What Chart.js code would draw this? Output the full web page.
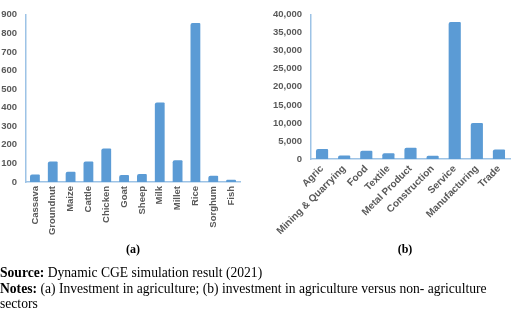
<!DOCTYPE html>
<html>
<head>
<meta charset="utf-8">
<script src="https://cdn.jsdelivr.net/npm/chart.js@4.4.1/dist/chart.umd.min.js"></script>
<style>
  html, body { margin: 0; padding: 0; background: #fff; width: 520px; height: 314px; overflow: hidden; }
  canvas { position: absolute; }
  #ca { left: 0; top: 0; }
  #cb { left: 260px; top: 0; }
  .cap { position: absolute; font-family: "Liberation Serif", "Times New Roman", serif; font-weight: bold; font-size: 12px; color: #000; transform: translateX(-50%); }
  .note { position: absolute; left: 0; font-family: "Liberation Serif", "Times New Roman", serif; font-size: 13.6px; color: #000; white-space: nowrap; line-height: 15px; }
</style>
</head>
<body>
<canvas id="ca" width="248" height="245"></canvas>
<canvas id="cb" width="260" height="245"></canvas>
<div class="cap" style="left:133px; top:242px;">(a)</div>
<div class="cap" style="left:405px; top:242px;">(b)</div>
<div class="note" style="top:265px;"><b>Source:</b> Dynamic CGE simulation result (2021)</div>
<div class="note" style="top:281px;"><b>Notes:</b> (a) Investment in agriculture; (b) investment in agriculture versus non- agriculture</div>
<div class="note" style="top:296px;">sectors</div>
<script>
const agriCategories = ["Cassava","Groundnut","Maize","Cattle","Chicken","Goat","Sheep","Milk","Millet","Rice","Sorghum","Fish"];
const agriValues = [40, 110, 55, 110, 180, 37, 43, 428, 117, 855, 33, 12];
const agriTicks = [0, 100, 200, 300, 400, 500, 600, 700, 800, 900];

const sectorCategories = ["Agric","Mining & Quarrying","Food","Textile","Metal Product","Construction","Service","Manufacturing","Trade"];
const sectorValues = [2800, 1000, 2300, 1600, 3100, 900, 38000, 10000, 2600];
const sectorTicks = [0, 5000, 10000, 15000, 20000, 25000, 30000, 35000, 40000];

const barColor = "#5B9BD5";
const axisColor = "#9DC3E6";
const tickColor = "#595959";

function makeChart(id, cats, vals, ticks, opts) {
  return new Chart(document.getElementById(id), {
    type: "bar",
    data: { labels: cats, datasets: [{ data: vals, backgroundColor: barColor, borderWidth: 0,
      borderRadius: { topLeft: 2, topRight: 1 }, categoryPercentage: 1, barPercentage: 0.55 }] },
    options: {
      responsive: false, animation: false, devicePixelRatio: 1,
      layout: { autoPadding: false, padding: { top: opts.top, right: opts.right, left: 0, bottom: 0 } },
      plugins: { legend: { display: false }, tooltip: { enabled: false } },
      scales: {
        x: {
          grid: { display: false, drawTicks: false },
          border: { color: axisColor, width: 1.5 },
          ticks: { color: tickColor, font: { family: "Liberation Sans, Arial", size: opts.xFont, weight: "bold" }, minRotation: opts.rot, maxRotation: opts.rot, autoSkip: false, padding: 4 },
          afterFit: s => { s.height = opts.xH; }
        },
        y: {
          min: ticks[0], max: ticks[ticks.length - 1],
          afterBuildTicks: s => { s.ticks = ticks.map(v => ({ value: v })); },
          grid: { display: false, drawTicks: false },
          border: { color: axisColor, width: 1.5 },
          ticks: { color: tickColor, font: { family: "Liberation Sans, Arial", size: 9.5, weight: "bold" }, padding: opts.yPad,
            callback: v => v.toLocaleString("en-US") },
          afterFit: s => { s.width = opts.yW; }
        }
      }
    }
  });
}

makeChart("ca", agriCategories, agriValues, agriTicks, { top: 8, right: 8, xH: 63, yW: 26, yPad: 9, rot: 90, xFont: 9.5 });
makeChart("cb", sectorCategories, sectorValues, sectorTicks, { top: 9.5, right: 10, xH: 86, yW: 51, yPad: 9, rot: 45, xFont: 10 });
</script>
</body>
</html>
